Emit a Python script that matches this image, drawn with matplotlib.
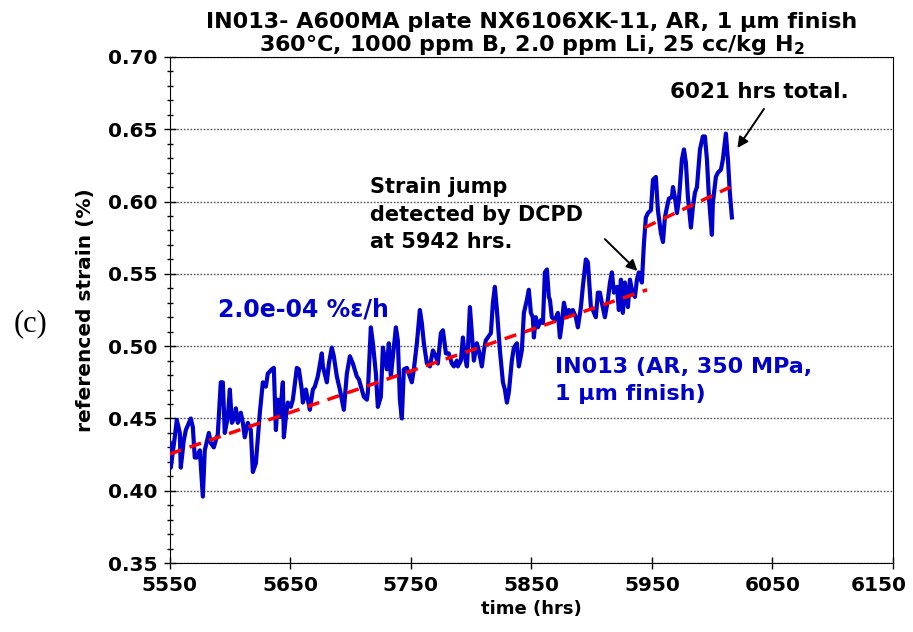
import matplotlib.pyplot as plt
from matplotlib.ticker import MultipleLocator
from matplotlib.transforms import ScaledTranslation

# strain record (hrs, % strain)
hrs = [5550.0, 5550.8, 5554.1, 5555.8, 5558.3, 5559.1, 5561.6, 5563.3, 5567.4, 5569.1,
       5570.7, 5572.4, 5574.9, 5577.4, 5579.0, 5582.4, 5584.0, 5586.5, 5588.2, 5589.8,
       5592.3, 5594.0, 5595.6, 5598.1, 5599.8, 5601.5, 5603.9, 5604.8, 5606.4, 5608.9,
       5610.6, 5612.2, 5614.7, 5617.2, 5618.9, 5621.4, 5624.7, 5627.2, 5629.7, 5631.3,
       5634.6, 5636.3, 5638.0, 5639.6, 5641.3, 5643.8, 5644.6, 5646.3, 5647.9, 5650.4,
       5652.1, 5655.4, 5657.1, 5659.5, 5660.4, 5662.9, 5664.5, 5666.2, 5668.7, 5670.3,
       5672.8, 5676.1, 5677.0, 5680.3, 5682.0, 5684.4, 5686.1, 5688.6, 5691.1, 5694.4,
       5696.9, 5699.4, 5701.9, 5705.2, 5706.9, 5709.3, 5711.0, 5713.5, 5714.3, 5716.8,
       5718.5, 5721.0, 5722.6, 5725.1, 5726.8, 5730.1, 5731.7, 5733.4, 5735.1, 5737.6,
       5739.2, 5740.9, 5742.5, 5744.2, 5746.7, 5748.3, 5750.8, 5752.5, 5755.0, 5757.5,
       5759.1, 5760.8, 5763.3, 5765.8, 5768.3, 5770.8, 5772.4, 5774.9, 5776.6, 5779.1,
       5781.5, 5784.0, 5785.7, 5788.2, 5789.0, 5791.5, 5793.2, 5794.8, 5796.5, 5797.3,
       5799.0, 5800.6, 5802.3, 5804.8, 5806.4, 5808.9, 5810.6, 5812.2, 5813.9, 5816.4,
       5818.1, 5819.7, 5821.4, 5823.9, 5826.4, 5828.0, 5829.7, 5831.3, 5833.8, 5835.5,
       5838.0, 5839.6, 5842.1, 5843.8, 5846.3, 5847.9, 5849.6, 5851.2, 5852.1, 5853.7,
       5855.4, 5857.9, 5859.6, 5861.2, 5862.9, 5864.5, 5865.4, 5867.0, 5869.5, 5872.0,
       5873.7, 5875.3, 5877.0, 5879.5, 5881.1, 5882.8, 5884.4, 5886.9, 5888.6, 5891.1,
       5892.7, 5895.2, 5896.9, 5899.4, 5901.0, 5903.5, 5905.2, 5906.9, 5908.5, 5911.0,
       5913.5, 5915.2, 5916.8, 5918.5, 5921.0, 5922.6, 5924.3, 5925.9, 5927.6, 5930.1,
       5931.8, 5933.4, 5935.9, 5937.6, 5939.2, 5941.7, 5943.4, 5945.0, 5946.7, 5949.2,
       5950.9, 5953.3, 5955.0, 5957.5, 5959.2, 5960.8, 5962.5, 5964.1, 5966.6, 5967.5,
       5969.1, 5970.8, 5972.4, 5974.9, 5976.6, 5978.2, 5979.9, 5982.4, 5984.0, 5985.7,
       5987.4, 5989.9, 5992.3, 5994.0, 5995.7, 5997.3, 5999.8, 6000.6, 6003.1, 6004.8,
       6007.3, 6008.9, 6011.4, 6013.1, 6014.7, 6016.4]
strain = [0.433, 0.416, 0.437, 0.449, 0.440, 0.416, 0.435, 0.442, 0.450, 0.444,
          0.423, 0.423, 0.428, 0.396, 0.428, 0.440, 0.433, 0.430, 0.435, 0.439,
          0.475, 0.475, 0.440, 0.451, 0.470, 0.447, 0.451, 0.457, 0.447, 0.454,
          0.447, 0.437, 0.447, 0.442, 0.413, 0.419, 0.454, 0.475, 0.472, 0.481,
          0.484, 0.485, 0.442, 0.463, 0.451, 0.475, 0.437, 0.451, 0.461, 0.458,
          0.463, 0.485, 0.484, 0.470, 0.461, 0.470, 0.463, 0.456, 0.470, 0.472,
          0.479, 0.495, 0.486, 0.475, 0.488, 0.499, 0.493, 0.479, 0.470, 0.456,
          0.481, 0.493, 0.488, 0.479, 0.477, 0.470, 0.465, 0.463, 0.468, 0.513,
          0.502, 0.481, 0.458, 0.465, 0.499, 0.484, 0.502, 0.479, 0.493, 0.513,
          0.504, 0.463, 0.450, 0.484, 0.485, 0.481, 0.475, 0.484, 0.502, 0.525,
          0.516, 0.502, 0.488, 0.486, 0.497, 0.493, 0.488, 0.509, 0.511, 0.495,
          0.495, 0.488, 0.486, 0.490, 0.486, 0.490, 0.506, 0.493, 0.486, 0.497,
          0.527, 0.509, 0.490, 0.502, 0.497, 0.486, 0.497, 0.504, 0.506, 0.509,
          0.530, 0.541, 0.525, 0.497, 0.475, 0.470, 0.461, 0.468, 0.490, 0.499,
          0.502, 0.486, 0.497, 0.523, 0.532, 0.539, 0.523, 0.520, 0.506, 0.520,
          0.513, 0.518, 0.516, 0.551, 0.553, 0.534, 0.532, 0.520, 0.518, 0.523,
          0.506, 0.516, 0.530, 0.520, 0.525, 0.523, 0.525, 0.520, 0.513, 0.527,
          0.541, 0.560, 0.558, 0.527, 0.525, 0.520, 0.537, 0.537, 0.530, 0.520,
          0.532, 0.544, 0.551, 0.537, 0.541, 0.525, 0.546, 0.523, 0.544, 0.527,
          0.546, 0.539, 0.534, 0.546, 0.551, 0.544, 0.571, 0.589, 0.592, 0.594,
          0.615, 0.617, 0.594, 0.578, 0.572, 0.589, 0.596, 0.602, 0.603, 0.610,
          0.603, 0.592, 0.601, 0.629, 0.636, 0.627, 0.603, 0.582, 0.596, 0.606,
          0.610, 0.636, 0.645, 0.645, 0.629, 0.603, 0.577, 0.599, 0.617, 0.620,
          0.622, 0.629, 0.647, 0.629, 0.606, 0.589]

# linear fits before and after the strain jump
fit1_hrs = [5550, 5946]
fit1_strain = [0.4255, 0.539]
fit2_hrs = [5944, 6015]
fit2_strain = [0.582, 0.610]

xticks = [5550, 5650, 5750, 5850, 5950, 6050, 6150]
yticks = [0.35, 0.40, 0.45, 0.50, 0.55, 0.60, 0.65, 0.70]

plt.rcParams['font.family'] = 'DejaVu Sans'
plt.rcParams['font.weight'] = 'bold'

fig = plt.figure(figsize=(9.13, 6.32), dpi=100)
ax = fig.add_axes([0.186, 0.109, 0.792, 0.801])

blue = '#0000CD'
ax.plot(hrs, strain, color=blue, linewidth=3.0, zorder=3)
ax.plot(fit1_hrs, fit1_strain, color='red', linestyle=(0, (3.5, 2.5)), linewidth=2.5, zorder=4)
ax.plot(fit2_hrs, fit2_strain, color='red', linestyle=(0, (3.5, 2.5)), linewidth=2.5, zorder=4)

ax.set_xlim(5550, 6150)
ax.set_ylim(0.35, 0.70)
ax.set_xticks(xticks)
ax.set_yticks(yticks)
ax.set_yticklabels([f'{v:.2f}' for v in yticks])
ax.yaxis.set_minor_locator(MultipleLocator(0.01))
ax.tick_params(axis='both', which='major', direction='inout', length=8, width=1,
               labelsize=14.5, pad=5)
ax.tick_params(axis='y', which='minor', direction='inout', length=5, width=1)
for lab in ax.get_xticklabels() + ax.get_yticklabels():
    lab.set_fontweight('bold')
# last x label pulled in so it stays inside the picture
last = ax.get_xticklabels()[-1]
last.set_transform(last.get_transform() + ScaledTranslation(-14 / 100, 0, fig.dpi_scale_trans))

# dotted grid at the major y ticks
ax.yaxis.grid(True, which='major', linestyle=(0, (1.2, 1.2)), color='#555555', linewidth=1)
ax.set_axisbelow(True)

ax.set_xlabel('time (hrs)', fontsize=13, fontweight='bold', labelpad=4)
ax.set_ylabel('referenced strain (%)', fontsize=14.5, fontweight='bold')
ax.yaxis.set_label_coords(-0.104, 0.5)

ax.set_title('IN013- A600MA plate NX6106XK-11, AR, 1 \u03bcm finish\n'
             '360\u00b0C, 1000 ppm B, 2.0 ppm Li, 25 cc/kg H$_\\mathbf{2}$',
             fontsize=16, fontweight='bold', linespacing=1.05, pad=4)

# annotations
ax.text(5965, 0.676, '6021 hrs total.', fontsize=15.5, fontweight='bold', va='center')
ax.annotate('', xy=(6021, 0.637), xytext=(6043, 0.664),
            arrowprops=dict(arrowstyle='-|>', color='black', lw=1.4,
                            shrinkA=0, shrinkB=0, mutation_scale=16))
ax.text(5716, 0.591, 'Strain jump\ndetected by DCPD\nat 5942 hrs.', fontsize=15,
        fontweight='bold', va='center', linespacing=1.45)
ax.annotate('', xy=(5938, 0.552), xytext=(5911, 0.574),
            arrowprops=dict(arrowstyle='-|>', color='black', lw=1.4,
                            shrinkA=0, shrinkB=0, mutation_scale=16))
ax.text(5590, 0.525, '2.0e-04 %\u03b5/h', color=blue, fontsize=17,
        fontweight='bold', va='center')
ax.text(5870, 0.476, 'IN013 (AR, 350 MPa,\n1 \u03bcm finish)', color=blue,
        fontsize=16, fontweight='bold', va='center', linespacing=1.45)

fig.text(0.033, 0.487, '(c)', fontsize=22, family='Liberation Serif',
         fontweight='normal', va='center', ha='center')

fig.savefig('out.png', dpi=100)
